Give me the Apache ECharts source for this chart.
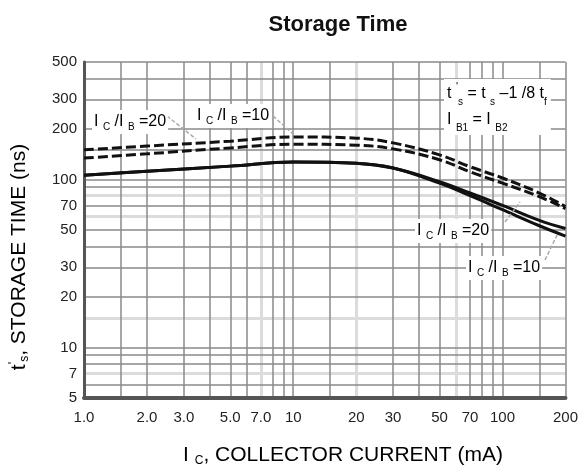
<!DOCTYPE html>
<html>
<head>
<meta charset="utf-8">
<script src="https://cdn.jsdelivr.net/npm/echarts@6/dist/echarts.min.js"></script>
<style>
  html, body { margin: 0; padding: 0; background: #fff; }
  #chart { width: 581px; height: 470px; }
</style>
</head>
<body>
<div id="chart"></div>
<script>
// collector current (mA) at which the curves were read
var current = [1, 2, 5, 10, 20, 30, 50, 70, 100, 150, 200];
// storage time (ns)
var dashUpper = [150, 158, 169, 179, 176, 165, 140, 119, 102, 83, 69];
var dashLower = [134, 142, 154, 162, 160, 152, 131, 111, 95, 79, 67];
var solidUpper = [106, 112, 120, 127, 125, 117, 97, 83, 70, 57, 51];
var solidLower = [106, 112, 120, 127, 125, 117, 95, 80, 66, 53, 46];

// tick labels and grid lines
var xLabels = [1, 2, 3, 5, 7, 10, 20, 30, 50, 70, 100, 200];
var xLabelText = ['1.0', '2.0', '3.0', '5.0', '7.0', '10', '20', '30', '50', '70', '100', '200'];
var xGridDark = [1, 1.5, 2, 3, 4, 5, 6, 8, 9, 10, 15, 30, 40, 50, 70, 80, 90, 100, 150, 200];
var xGridLight = [7, 20, 60];
var yLabels = [5, 7, 10, 20, 30, 50, 70, 100, 200, 300, 500];
var yGridDark = [5, 6, 8, 9, 10, 20, 30, 40, 50, 70, 90, 100, 150, 200, 300, 400, 500];
var yGridLight = [7, 15, 60, 80];

var FONT = 'Liberation Sans';
var log = function (v) { return Math.log10(v); };

function labelFor(values, texts) {
  return function (v) {
    var x = Math.pow(10, v);
    for (var i = 0; i < values.length; i++) {
      if (Math.abs(values[i] - x) < 1e-6 * x) return texts ? texts[i] : String(values[i]);
    }
    return '';
  };
}

function pts(ys) {
  return current.map(function (c, i) { return [log(c), log(ys[i])]; });
}

var chartDom = document.getElementById('chart');
var myChart = echarts.init(chartDom);

var rich = {
  n: { fontSize: 16, fontFamily: FONT, color: '#222', lineHeight: 20 },
  s: { fontSize: 10, fontFamily: FONT, color: '#222', lineHeight: 12, verticalAlign: 'bottom' }
};
var ratio = function (k) { return '{n|I }{s|C}{n| /I }{s|B}{n| =' + k + '}'; };

var lightAxis = {
  type: 'value',
  axisLine: { show: false },
  axisTick: { show: false },
  axisLabel: { show: false },
  splitLine: { show: true, lineStyle: { color: '#dcdcdc', width: 3 } }
};

var option = {
  backgroundColor: '#fff',
  animation: false,
  title: {
    text: 'Storage Time',
    left: 333,
    top: 9,
    textAlign: 'center',
    textStyle: { fontFamily: FONT, fontWeight: 'bold', fontSize: 22, color: '#111' }
  },
  grid: { left: 84, right: 11, top: 62, bottom: 72 },
  xAxis: [
    Object.assign({}, lightAxis, {
      min: 0, max: log(200), position: 'top',
      axisTick: { show: false, customValues: xGridLight.map(log) }
    }),
    {
      type: 'value',
      min: 0,
      max: log(200),
      z: 1,
      axisLine: { show: true, onZero: false, lineStyle: { color: '#555', width: 4 } },
      axisTick: { show: false, customValues: xGridDark.map(log) },
      axisLabel: {
        customValues: xLabels.map(log),
        formatter: labelFor(xLabels, xLabelText),
        fontFamily: FONT, fontSize: 15, color: '#222', margin: 12
      },
      splitLine: { show: true, lineStyle: { color: '#8a8a8a', width: 1.5 } }
    }
  ],
  yAxis: [
    Object.assign({}, lightAxis, {
      min: log(5), max: log(500), position: 'right',
      axisTick: { show: false, customValues: yGridLight.map(log) }
    }),
    {
      type: 'value',
      min: log(5),
      max: log(500),
      z: 1,
      axisLine: { show: true, onZero: false, lineStyle: { color: '#555', width: 3 } },
      axisTick: { show: false, customValues: yGridDark.map(log) },
      axisLabel: {
        customValues: yLabels.map(log),
        formatter: labelFor(yLabels),
        fontFamily: FONT, fontSize: 15, color: '#222', margin: 7
      },
      splitLine: { show: true, lineStyle: { color: '#8a8a8a', width: 1.5 } }
    }
  ],
  series: [
    {
      name: 'Ic/Ib=20 dashed', type: 'line', xAxisIndex: 1, yAxisIndex: 1,
      data: pts(dashUpper), smooth: 0.4, symbol: 'none', z: 3,
      lineStyle: { color: '#111', width: 3, type: [10, 4] }
    },
    {
      name: 'Ic/Ib=10 dashed', type: 'line', xAxisIndex: 1, yAxisIndex: 1,
      data: pts(dashLower), smooth: 0.4, symbol: 'none', z: 3,
      lineStyle: { color: '#111', width: 3, type: [10, 4] }
    },
    {
      name: 'Ic/Ib=20', type: 'line', xAxisIndex: 1, yAxisIndex: 1,
      data: pts(solidUpper), smooth: 0.4, symbol: 'none', z: 3,
      lineStyle: { color: '#111', width: 3 }
    },
    {
      name: 'Ic/Ib=10', type: 'line', xAxisIndex: 1, yAxisIndex: 1,
      data: pts(solidLower), smooth: 0.4, symbol: 'none', z: 3,
      lineStyle: { color: '#111', width: 3 }
    }
  ],
  graphic: [
    // axis titles
    {
      type: 'text', x: 19, y: 257, rotation: Math.PI / 2,
      style: {
        text: "{t|t}{p|'}{q|s}{t|, STORAGE TIME (ns)}",
        align: 'center', verticalAlign: 'middle',
        rich: {
          t: { fontSize: 21, fontFamily: FONT, color: '#222', lineHeight: 24 },
          p: { fontSize: 13, fontFamily: FONT, color: '#222', lineHeight: 24, verticalAlign: 'top' },
          q: { fontSize: 12, fontFamily: FONT, color: '#222', lineHeight: 14, verticalAlign: 'bottom' }
        }
      }
    },
    {
      type: 'text', x: 343, y: 455,
      style: {
        text: '{t|I }{q|C}{t|, COLLECTOR CURRENT (mA)}',
        align: 'center', verticalAlign: 'middle',
        rich: {
          t: { fontSize: 21, fontFamily: FONT, color: '#222', lineHeight: 24 },
          q: { fontSize: 12, fontFamily: FONT, color: '#222', lineHeight: 14, verticalAlign: 'bottom' }
        }
      }
    },
    // leader lines
    { type: 'polyline', z: 5, shape: { points: [[167, 116], [196, 139]] }, style: { stroke: '#aaa', lineWidth: 1.5, lineDash: [4, 2] } },
    { type: 'polyline', z: 5, shape: { points: [[273, 116], [293, 134]] }, style: { stroke: '#aaa', lineWidth: 1.5, lineDash: [4, 2] } },
    { type: 'polyline', z: 5, shape: { points: [[505, 222], [520, 202]] }, style: { stroke: '#aaa', lineWidth: 1.5, lineDash: [4, 2] } },
    { type: 'polyline', z: 5, shape: { points: [[545, 260], [558, 233]] }, style: { stroke: '#aaa', lineWidth: 1.5, lineDash: [4, 2] } },
    // curve labels
    {
      type: 'text', x: 92, y: 122, z: 6,
      style: { text: ratio(20), rich: rich, align: 'left', verticalAlign: 'middle', backgroundColor: '#fff', padding: [2, 2] }
    },
    {
      type: 'text', x: 195, y: 116, z: 6,
      style: { text: ratio(10), rich: rich, align: 'left', verticalAlign: 'middle', backgroundColor: '#fff', padding: [2, 2] }
    },
    {
      type: 'text', x: 415, y: 231, z: 6,
      style: { text: ratio(20), rich: rich, align: 'left', verticalAlign: 'middle', backgroundColor: '#fff', padding: [2, 2] }
    },
    {
      type: 'text', x: 466, y: 268, z: 6,
      style: { text: ratio(10), rich: rich, align: 'left', verticalAlign: 'middle', backgroundColor: '#fff', padding: [2, 2] }
    },
    // formula box
    {
      type: 'text', x: 444, y: 79, z: 6,
      style: {
        text: "{n|t }{p|'}{s|s}{n| = t }{s|s}{n| –1 /8 t}{s|f}\n{n|I }{s|B1}{n| = I }{s|B2}",
        rich: {
          n: { fontSize: 16, fontFamily: FONT, color: '#222', lineHeight: 26 },
          p: { fontSize: 11, fontFamily: FONT, color: '#222', lineHeight: 26, verticalAlign: 'top' },
          s: { fontSize: 10, fontFamily: FONT, color: '#222', lineHeight: 18, verticalAlign: 'bottom' }
        },
        backgroundColor: '#fff', padding: [2, 4, 2, 3]
      }
    }
  ]
};

myChart.setOption(option);
</script>
</body>
</html>
